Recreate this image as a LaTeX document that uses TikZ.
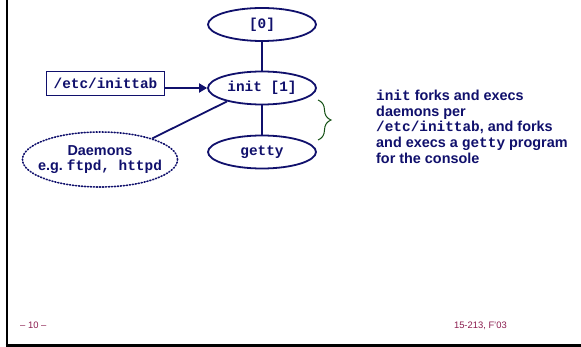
\documentclass[tikz,border=0pt]{standalone}
\usepackage{fontspec}
\setmainfont{Liberation Sans}
\setmonofont{Liberation Mono}
\usetikzlibrary{shapes.geometric,decorations.pathreplacing,arrows.meta}
\definecolor{navy}{RGB}{16,16,108}
\definecolor{bracegreen}{RGB}{20,80,20}
\definecolor{footred}{RGB}{140,30,80}
\tikzset{
  proc/.style={ellipse, draw=navy, line width=1.8pt, minimum width=108pt,
    minimum height=33pt, inner sep=0pt, text=navy,
    font=\fontsize{14.4}{16}\selectfont\ttfamily\bfseries},
  cfgbox/.style={rectangle, draw=navy, line width=1.2pt, minimum width=118pt,
    minimum height=24pt, inner sep=0pt, text=navy,
    font=\fontsize{14.4}{16}\selectfont\ttfamily\bfseries},
  daemon/.style={ellipse, draw=navy, line width=1.6pt,
    dash pattern=on 1.1pt off 1.9pt, line cap=round,
    minimum width=155pt, minimum height=55pt, inner xsep=-9pt, inner ysep=0pt,
    text=navy, align=center, font=\fontsize{14.4}{15}\selectfont\bfseries},
  link/.style={draw=navy, line width=1.8pt},
  feed/.style={link, -{Triangle[length=8pt,width=9pt]}},
  bracket/.style={draw=bracegreen, line width=1pt,
    decorate, decoration={brace, amplitude=13pt}},
  note/.style={text=navy, align=left, anchor=north west, inner sep=0pt,
    font=\fontsize{14.4}{15.9}\selectfont\bfseries},
  foot/.style={text=footred, inner sep=0pt,
    font=\fontsize{9.4}{10}\selectfont}
}
\begin{document}
\begin{tikzpicture}[x=1pt,y=-1pt]
\useasboundingbox (0,0) rectangle (581,347);
\fill[white] (0,0) rectangle (581,347);
% slide frame: left and bottom edges
\draw[black, line width=2pt] (6.7,0) -- (6.7,345);
\draw[black, line width=3pt] (5.7,345.5) -- (581,345.5);

% process tree
\node[proc] (root) at (262,24.5) {[0]};
\node[proc] (init) at (262,88) {init [1]};
\node[proc] (getty) at (262,152) {getty};
\node[cfgbox] (inittab) at (105.5,83.5) {/etc/inittab};
\node[daemon] (daemons) at (100,159.5)
  {Daemons\\e.g.\ \texttt{ftpd, httpd}};

\draw[link] (root) -- (init);
\draw[link] (init) -- (getty);
\draw[feed] (inittab.east |- init.west) -- (init.west);
\draw[link] (daemons.22) -- (init.201);

% brace grouping init and its children
\coordinate (bracetop) at (318,100);
\coordinate (bracebot) at (318,140);
\draw[bracket] (bracetop) -- (bracebot);

\node[note] (desc) at (376,89.5)
  {\texttt{init} forks and execs\\daemons per\\\texttt{/etc/inittab}, and forks\\and execs a \texttt{getty} program\\for the console};

% footer
\node[foot, anchor=base west] (pageno) at (20,329) {– 10 –};
\node[foot, anchor=base east] (course) at (507,329) {15-213, F'03};
\end{tikzpicture}
\end{document}
